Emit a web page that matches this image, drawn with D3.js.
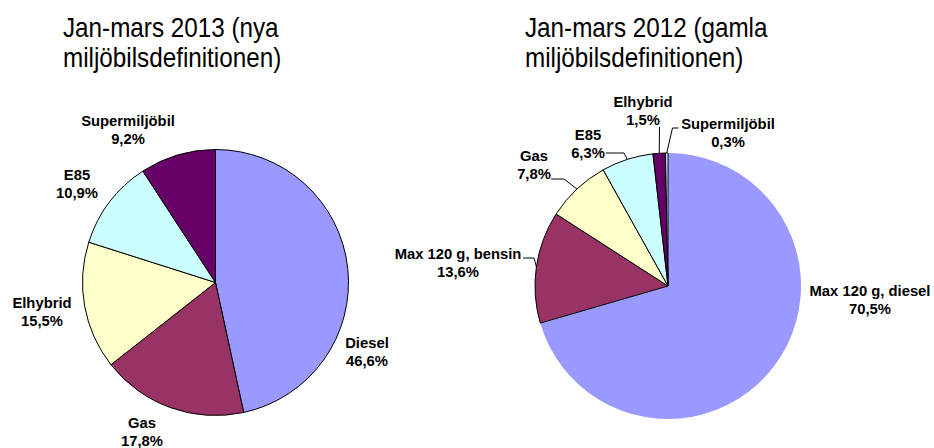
<!DOCTYPE html>
<html>
<head>
<meta charset="utf-8">
<script src="https://cdn.jsdelivr.net/npm/d3@7"></script>
<style>
  html, body { margin: 0; padding: 0; background: #fff; }
  svg { display: block; font-family: "Liberation Sans", Arial, sans-serif; }
</style>
</head>
<body>
<svg id="chart" width="934" height="448"></svg>
<script>
// Two pies: share of new "miljöbilar" per fuel type

const categories2013 = ['Diesel', 'Gas', 'Elhybrid', 'E85', 'Supermiljöbil'];
const values2013 = [46.6, 17.8, 15.5, 10.9, 9.2];

const categories2012 = ['Max 120 g, diesel', 'Max 120 g, bensin', 'Gas', 'E85', 'Elhybrid', 'Supermiljöbil'];
const values2012 = [70.5, 13.6, 7.8, 6.3, 1.5, 0.3];

const titles = [
  ['Jan-mars 2013 (nya', 'miljöbilsdefinitionen)'],
  ['Jan-mars 2012 (gamla', 'miljöbilsdefinitionen)']
];

const colors2013 = ['#9999ff', '#993366', '#ffffcc', '#ccffff', '#660066'];
const colors2012 = ['#9999ff', '#993366', '#ffffcc', '#ccffff', '#660066', '#ccffff'];

// label placement (centre x, centre y of first line) and optional leader elbows
const labels2013 = [
  { x: 367, y: 343 },
  { x: 142, y: 423 },
  { x: 42, y: 303 },
  { x: 77, y: 175 },
  { x: 128, y: 121 }
];
const labels2012 = [
  { x: 870, y: 291 },
  { x: 458, y: 254, line: [[534, 258], [523, 258]] },
  { x: 534, y: 156, line: [[564, 179], [551, 179]] },
  { x: 588, y: 135, line: [[624, 153], [606, 153]] },
  { x: 643, y: 102, line: [[659.5, 127]] },
  { x: 728, y: 124, line: [[672.5, 128], [678.5, 128]] }
];

const svg = d3.select('#chart');
svg.append('rect').attr('width', 934).attr('height', 448).attr('fill', '#fff');

const locale = d3.formatLocale({ decimal: ',', thousands: ' ', grouping: [3], currency: ['', ' kr'] });
const fmt = v => locale.format('.1f')(v) + '%';

function drawPie(opts){
  const { cx, cy, r, cats, vals, cols, labels, title, titleX, strokeFirst } = opts;

  // title glyphs in the original are a bit taller and narrower
  title.forEach((t, i) => {
    svg.append('text')
      .attr('transform', `translate(${titleX},${37 + i * 30}) scale(0.97,1.07)`)
      .style('font-size', '25px')
      .text(t);
  });

  const pie = d3.pie().sort(null).value(d => d);
  const arcs = pie(vals);
  const arc = d3.arc().innerRadius(0).outerRadius(r);
  const edge = d3.arc().innerRadius(r).outerRadius(r);

  const g = svg.append('g').attr('transform', `translate(${cx},${cy})`);

  g.selectAll('path')
    .data(arcs)
    .join('path')
      .attr('d', arc)
      .attr('fill', (d, i) => cols[i])
      .attr('stroke', (d, i) => (i === 0 && !strokeFirst) ? 'none' : '#000')
      .attr('stroke-width', 1)
      .attr('stroke-linejoin', 'round');

  // leader lines
  arcs.forEach((d, i) => {
    const lab = labels[i];
    if(!lab.line) return;
    const [ex, ey] = edge.centroid(d);
    const pts = [[cx + ex, cy + ey]].concat(lab.line);
    svg.append('path')
      .attr('d', d3.line()(pts))
      .attr('fill', 'none')
      .attr('stroke', '#000')
      .attr('stroke-width', 1);
  });

  const lg = svg.append('g')
    .attr('text-anchor', 'middle')
    .style('font-size', '14.8px')
    .style('font-weight', 'bold');

  arcs.forEach((d, i) => {
    const lab = labels[i];
    lg.append('text')
      .attr('x', lab.x).attr('y', lab.y + 5)
      .text(cats[i]);
    lg.append('text')
      .attr('x', lab.x).attr('y', lab.y + 23)
      .text(fmt(vals[i]));
  });
}

drawPie({
  cx: 215.5, cy: 282.5, r: 133,
  cats: categories2013, vals: values2013, cols: colors2013,
  labels: labels2013, title: titles[0], titleX: 63, strokeFirst: true
});

drawPie({
  cx: 668, cy: 286, r: 133,
  cats: categories2012, vals: values2012, cols: colors2012,
  labels: labels2012, title: titles[1], titleX: 525, strokeFirst: false
});
</script>
</body>
</html>
